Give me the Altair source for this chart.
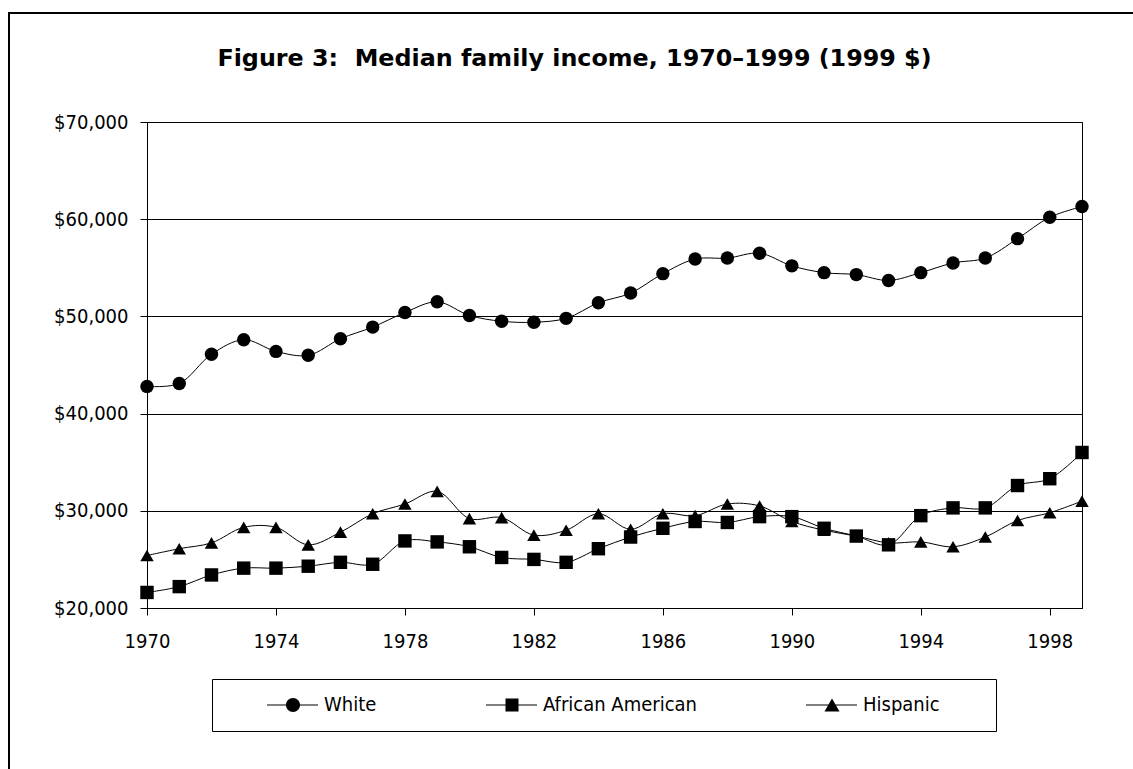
import altair as alt
import pandas as pd

# Median family income in constant 1999 dollars
years = list(range(1970, 2000))
white = [42800, 43100, 46100, 47600, 46400, 46000, 47700, 48900, 50400, 51500,
         50100, 49500, 49400, 49800, 51400, 52400, 54400, 55900, 56000, 56500,
         55200, 54500, 54300, 53700, 54500, 55500, 56000, 58000, 60200, 61300]
african_american = [21600, 22200, 23400, 24100, 24100, 24300, 24700, 24500, 26900, 26800,
                    26300, 25200, 25000, 24700, 26100, 27300, 28200, 28900, 28800, 29400,
                    29400, 28200, 27400, 26500, 29500, 30300, 30300, 32600, 33300, 36000]
hispanic = [25400, 26100, 26700, 28300, 28300, 26500, 27800, 29700, 30700, 32000,
            29200, 29300, 27500, 28000, 29700, 28100, 29700, 29500, 30700, 30500,
            28900, 28000, 27400, 26700, 26800, 26300, 27300, 29000, 29800, 31000]
groups = ["White", "African American", "Hispanic"]
x_ticks = list(range(1970, 1999, 4))
y_ticks = list(range(20000, 70001, 10000))

rows = []
for name, vals in zip(groups, [white, african_american, hispanic]):
    for yr, v in zip(years, vals):
        rows.append({"year": yr, "income": v, "group": name})
df = pd.DataFrame(rows)

FONT = "DejaVu Sans Condensed, DejaVu Sans, sans-serif"


def fmt(v):
    return f"{v:.3f}".rstrip("0").rstrip(".")


# Legend keys: a short line with the series marker on it. The key box is
# 20px wide (10px per path unit); the path reaches past it to the right and
# an empty move-to at -1 pins the entry's left edge.
cx = 5.5      # marker centre
r = 0.7       # circle radius
h = 0.65      # square / triangle half height
w = 0.75      # triangle half width
t = 0.05      # half thickness of the connector line
lead = f"M-1,0M2.9,{fmt(-t)}H8V{fmt(t)}H2.9Z"
circle_key = lead + f"M{fmt(cx + r)},0A{fmt(r)},{fmt(r)},0,1,1,{fmt(cx - r)},0A{fmt(r)},{fmt(r)},0,1,1,{fmt(cx + r)},0Z"
square_key = lead + f"M{fmt(cx - h)},{fmt(-h)}H{fmt(cx + h)}V{fmt(h)}H{fmt(cx - h)}Z"
triangle_key = lead + f"M{fmt(cx)},{fmt(-h)}L{fmt(cx + w)},{fmt(h)}L{fmt(cx - w)},{fmt(h)}Z"

x_enc = alt.X(
    "year:Q",
    scale=alt.Scale(domain=[1970, 1999], nice=False, zero=False),
    axis=alt.Axis(values=x_ticks, format="d", title=None, grid=False,
                  labelPadding=16, labelFlush=False),
)
y_enc = alt.Y(
    "income:Q",
    scale=alt.Scale(domain=[20000, 70000], nice=False, zero=False),
    axis=alt.Axis(values=y_ticks, format="$,.0f", title=None, grid=True,
                  labelPadding=12),
)

base = alt.Chart(df).encode(x=x_enc, y=y_enc)

lines = base.mark_line(color="black", strokeWidth=1, interpolate="catmull-rom").encode(
    detail="group:N"
)

points = base.mark_point(filled=True, color="black", opacity=1, size=180).encode(
    shape=alt.Shape(
        "group:N",
        scale=alt.Scale(domain=groups, range=["circle", "square", "triangle-up"]),
        legend=None,
    )
)

key_layer = base.mark_point(filled=True, color="black", opacity=0).encode(
    shape=alt.Shape(
        "group:N",
        scale=alt.Scale(domain=groups, range=[circle_key, square_key, triangle_key]),
        legend=alt.Legend(
            title="\u00a0",
            titleOrient="right",
            titlePadding=40,
            titleFontSize=10,
            orient="none",
            legendX=65,
            legendY=557,
            direction="horizontal",
            symbolSize=400,
            symbolOpacity=1,
            symbolFillColor="black",
            symbolStrokeColor="black",
            symbolStrokeWidth=0,
            labelOffset=76,
            columnPadding=70,
            padding=16,
            strokeColor="black",
            fillColor="white",
            labelFont=FONT,
            labelFontSize=20,
            labelColor="black",
        ),
    )
)

frame_src = pd.DataFrame({"k": [0]})
left_edge = alt.Chart(frame_src).mark_rule(color="black", strokeWidth=2).encode(
    x=alt.value(-138), y=alt.value(-110), y2=alt.value(700)
)
top_edge = alt.Chart(frame_src).mark_rule(color="black", strokeWidth=2).encode(
    x=alt.value(-139), x2=alt.value(1000), y=alt.value(-109)
)

chart = (
    alt.layer(lines, points, key_layer, left_edge, top_edge)
    .resolve_scale(shape="independent")
    .properties(
        width=935,
        height=486,
        autosize=alt.AutoSizeParams(type="none"),
        padding={"left": 147, "top": 122, "right": 51, "bottom": 161},
        title=alt.TitleParams(
            text="Figure 3:\u00a0 Median family income, 1970\u20131999 (1999 $)",
            font="DejaVu Sans",
            fontSize=23.8,
            fontWeight="bold",
            color="black",
            anchor="middle",
            baseline="alphabetic",
            dx=-40,
            dy=79,
            offset=0,
        ),
    )
    .configure(background="white")
    .configure_view(stroke="black", strokeWidth=1)
    .configure_axis(
        domainColor="black",
        domainWidth=1,
        tickColor="black",
        tickSize=7,
        labelColor="black",
        labelFont=FONT,
        labelFontSize=20,
        gridColor="black",
        gridOpacity=1,
        gridWidth=1,
    )
)

chart.save("out.html", embed_options={"renderer": "svg", "actions": False})
